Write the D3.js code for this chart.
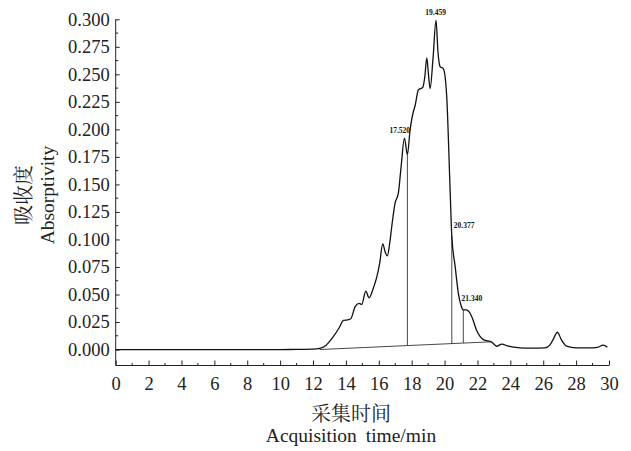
<!doctype html>
<html>
<head>
	<meta charset="utf-8">
	<script src="https://d3js.org/d3.v7.min.js"></script>
	<style>
		body { margin: 0; background: #fff; }
	</style>
</head>
<body>
	<div id="my_dataviz"></div>
	<script>
		// retention time (min) and absorbance
		var times = [0, 2, 4, 6, 8, 10, 11, 12, 12.4, 12.8, 13.2, 13.6, 13.85, 14.1, 14.3, 14.56, 14.8, 14.96,
			15.21, 15.41, 15.65, 15.88, 16.05, 16.24, 16.4, 16.52, 16.65, 16.79, 16.99, 17.19, 17.35, 17.56,
			17.74, 17.9, 18.1, 18.2, 18.41, 18.67, 18.8, 18.92, 19.02, 19.12, 19.3, 19.48, 19.6, 19.73, 19.93,
			20.13, 20.33, 20.44, 20.64, 20.84, 21.0, 21.14, 21.3, 21.45, 21.65, 21.96, 22.36, 22.87, 23.17,
			23.48, 23.88, 24.59, 25.3, 26.1, 26.4, 26.6, 26.86, 27.1, 27.43, 28.0, 28.8, 29.3, 29.65, 29.9];
		var absorb = [0, 0, 0, 0, 0, 0, 0.0001, 0.0003, 0.001, 0.004, 0.011, 0.020, 0.0265, 0.027, 0.028, 0.039, 0.042, 0.041,
			0.053, 0.047, 0.055, 0.066, 0.078, 0.096, 0.088, 0.085, 0.095, 0.112, 0.133, 0.142, 0.165, 0.192,
			0.177, 0.199, 0.216, 0.221, 0.236, 0.238, 0.248, 0.265, 0.25, 0.237, 0.265, 0.299, 0.27, 0.257, 0.255,
			0.23, 0.148, 0.103, 0.076, 0.051, 0.040, 0.036, 0.036, 0.035, 0.030, 0.017, 0.009, 0.0067, 0.003,
			0.005, 0.003, 0.0015, 0.0012, 0.0015, 0.004, 0.009, 0.0157, 0.009, 0.003, 0.0015, 0.0015, 0.002, 0.004, 0.002];

		// integration baseline (start / end)
		var baseTimes = [12.4, 22.8];
		var baseVals = [0.0, 0.007];

		// peak separation (drop) lines
		var dropTimes = [17.74, 20.44, 21.14];
		var dropVals = [0.177, 0.103, 0.036];

		// peak labels
		var peakNames = ["17.520", "19.459", "20.377", "21.340"];
		var peakTimes = [17.52, 19.459, 20.377, 21.34];
		var peakVals = [0.192, 0.299, 0.106, 0.040];

		var xTicks = d3.range(0, 31, 2);
		var yTicks = [0, 0.025, 0.05, 0.075, 0.1, 0.125, 0.15, 0.175, 0.2, 0.225, 0.25, 0.275, 0.3];

		var serif = "'Liberation Serif', 'Times New Roman', serif";
		var cjk = "'Noto Serif CJK SC', serif";

		var width = 631, height = 451;
		var svg = d3.select("#my_dataviz")
			.append("svg")
			.attr("width", width)
			.attr("height", height)
			.style("display", "block");

		var x = d3.scaleLinear().domain([0, 30]).range([115.7, 609]);
		var y = d3.scaleLinear().domain([-0.0145, 0.3]).range([365.5, 19.3]);

		// y axis (ticks pointing inward)
		var yAxis = svg.append("g")
			.attr("transform", "translate(" + x(0) + ",0)")
			.call(d3.axisLeft(y).tickValues(yTicks).tickSize(-4).tickPadding(6).tickFormat(d3.format(".3f")));
		yAxis.attr("font-family", serif).attr("font-size", 18.5);
		yAxis.select(".domain").attr("d", "M0," + y.range()[0] + "V" + y.range()[1]);
		yAxis.selectAll("text").attr("fill", "#222");
		yAxis.append("g").selectAll("line")
			.data(d3.range(0.0125, 0.3, 0.025))
			.enter().append("line")
			.attr("x1", 0).attr("x2", 2.5)
			.attr("y1", function(d) { return y(d); })
			.attr("y2", function(d) { return y(d); })
			.attr("stroke", "#222");

		// x axis (ticks pointing up)
		var xAxis = svg.append("g")
			.attr("transform", "translate(0," + y.range()[0] + ")")
			.call(d3.axisBottom(x).tickValues(xTicks).tickSize(-5).tickPadding(11));
		xAxis.attr("font-family", serif).attr("font-size", 18.5);
		xAxis.select(".domain").attr("d", "M" + x(0) + ",0H" + x(30));
		xAxis.selectAll("text").attr("fill", "#222");
		xAxis.append("g").selectAll("line")
			.data(d3.range(1, 30, 2))
			.enter().append("line")
			.attr("x1", function(d) { return x(d); })
			.attr("x2", function(d) { return x(d); })
			.attr("y1", 0).attr("y2", -2.5)
			.attr("stroke", "#222");
		svg.selectAll(".domain, .tick line").attr("stroke", "#222");

		// baseline and drop lines
		svg.append("line")
			.attr("x1", x(baseTimes[0])).attr("y1", y(baseVals[0]))
			.attr("x2", x(baseTimes[1])).attr("y2", y(baseVals[1]))
			.attr("stroke", "#333").attr("stroke-width", 0.9);

		var baseAt = d3.scaleLinear().domain(baseTimes).range(baseVals);
		svg.append("g").selectAll("line")
			.data(dropTimes)
			.enter().append("line")
			.attr("x1", function(d) { return x(d); })
			.attr("x2", function(d) { return x(d); })
			.attr("y1", function(d, i) { return y(dropVals[i]); })
			.attr("y2", function(d) { return y(baseAt(d)); })
			.attr("stroke", "#333").attr("stroke-width", 0.9);

		// chromatogram trace
		var pts = times.map(function(t, i) { return [t, absorb[i]]; });
		svg.append("path")
			.datum(pts)
			.attr("fill", "none")
			.attr("stroke", "#111")
			.attr("stroke-width", 1.3)
			.attr("d", d3.line()
				.x(function(d) { return x(d[0]); })
				.y(function(d) { return y(d[1]); })
				.curve(d3.curveMonotoneX));

		// peak labels
		var anchors = ["middle", "middle", "start", "start"];
		svg.append("g").selectAll("text")
			.data(peakNames)
			.enter().append("text")
			.text(function(d) { return d; })
			.attr("x", function(d, i) { return x(peakTimes[i]) + (i == 0 ? -4 : i == 2 ? 3 : i == 3 ? -5 : 0); })
			.attr("y", function(d, i) { return y(peakVals[i]) - 5; })
			.attr("text-anchor", function(d, i) { return anchors[i]; })
			.attr("fill", "#111")
			.style("font-family", serif)
			.style("font-size", "7.5px")
			.style("font-weight", "bold");

		// axis titles
		svg.append("text")
			.attr("transform", "translate(31,195) rotate(-90)")
			.attr("text-anchor", "middle")
			.attr("fill", "#222")
			.style("font-family", cjk)
			.style("font-size", "20px")
			.text("吸收度");
		svg.append("text")
			.attr("transform", "translate(54,195) rotate(-90)")
			.attr("text-anchor", "middle")
			.attr("fill", "#222")
			.style("font-family", serif)
			.style("font-size", "19.5px")
			.text("Absorptivity");
		svg.append("text")
			.attr("x", 351).attr("y", 421)
			.attr("text-anchor", "middle")
			.attr("fill", "#222")
			.style("font-family", cjk)
			.style("font-size", "20px")
			.text("采集时间");
		svg.append("text")
			.attr("x", 351).attr("y", 442)
			.attr("text-anchor", "middle")
			.attr("fill", "#222")
			.style("font-family", serif)
			.style("font-size", "19.5px")
			.style("word-spacing", "4px")
			.text("Acquisition time/min");
	</script>
</body>
</html>
